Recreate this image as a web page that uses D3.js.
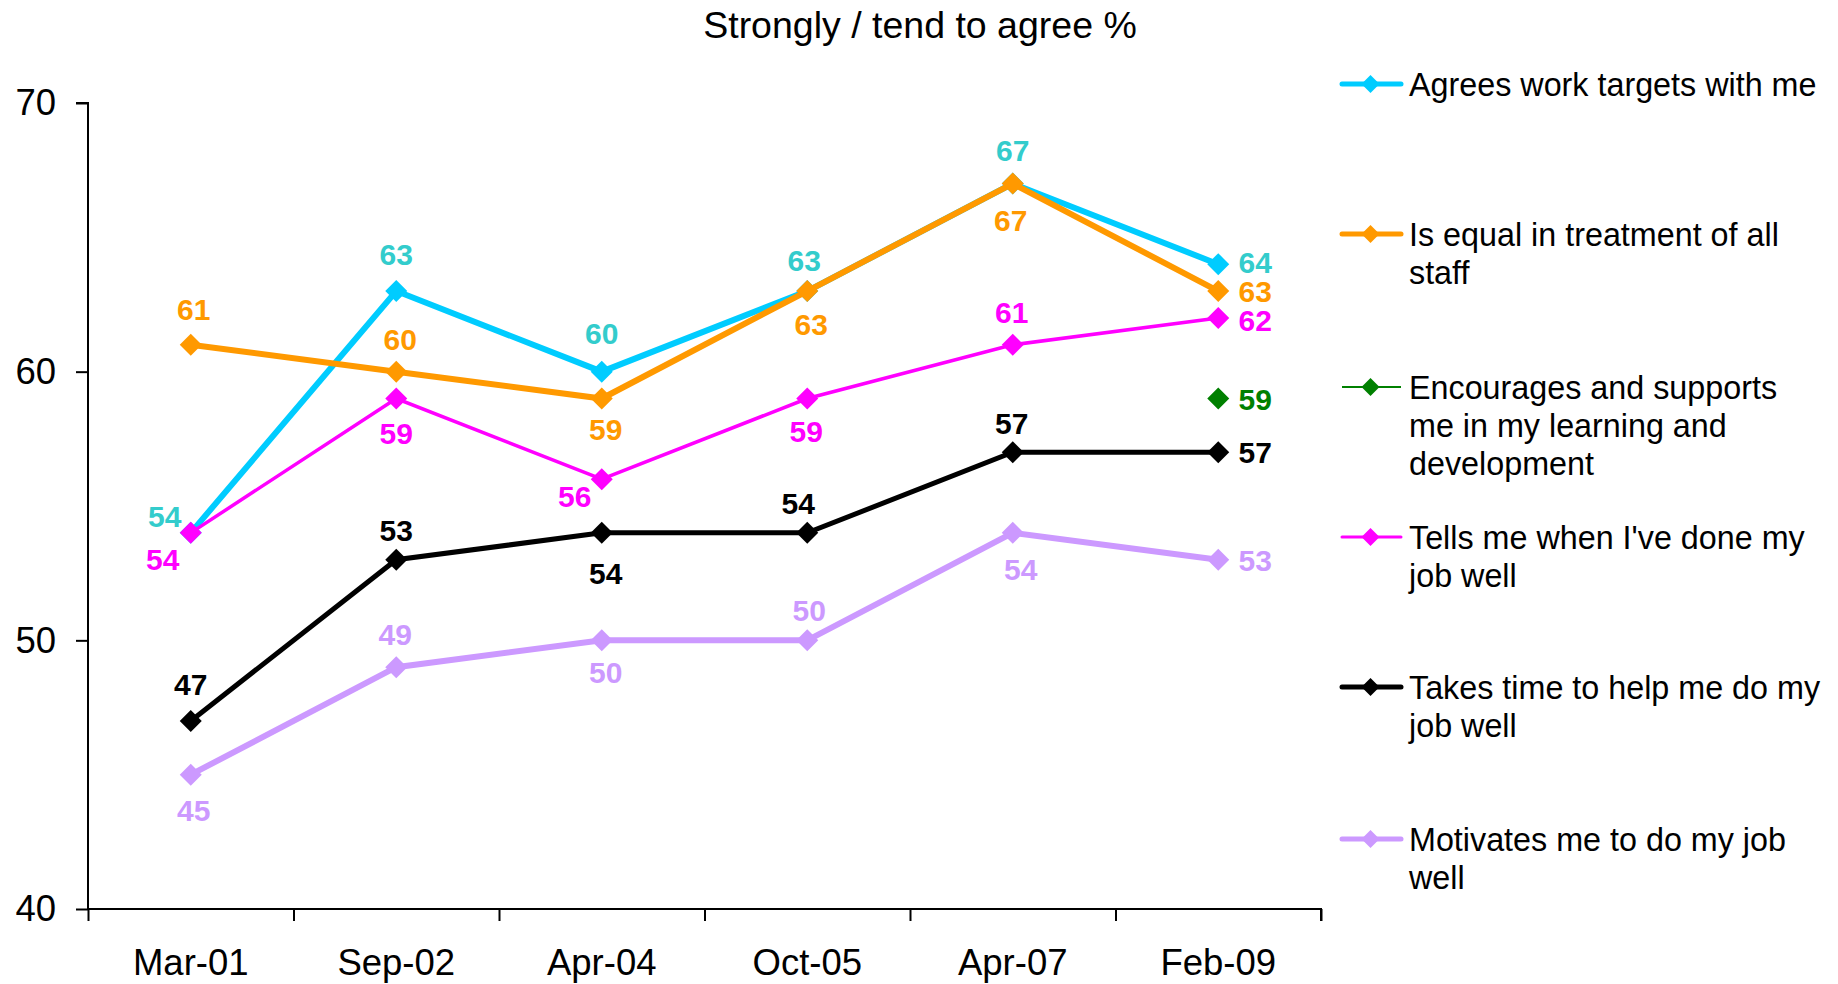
<!DOCTYPE html>
<html>
<head>
<meta charset="utf-8">
<script src="https://cdn.jsdelivr.net/npm/d3@7/dist/d3.min.js"></script>
<style>
  html, body { margin: 0; padding: 0; background: #ffffff; }
  svg { display: block; }
  text { font-family: "Liberation Sans", Arial, Helvetica, sans-serif; }
</style>
</head>
<body>
<svg id="chart" width="1838" height="984"></svg>
<script>
// ---------- data ----------
const categories = ["Mar-01", "Sep-02", "Apr-04", "Oct-05", "Apr-07", "Feb-09"];
const agreesTargets      = [54, 63, 60, 63, 67, 64];
const equalTreatment     = [61, 60, 59, 63, 67, 63];
const encouragesLearning = [null, null, null, null, null, 59];
const tellsDoneWell      = [54, 59, 56, 59, 61, 62];
const takesTime          = [47, 53, 54, 54, 57, 57];
const motivates          = [45, 49, 50, 50, 54, 53];
const yTicks = [40, 50, 60, 70];
const title = "Strongly / tend to agree %";
const legendLabels = [
  ["Agrees work targets with me"],
  ["Is equal in treatment of all", "staff"],
  ["Encourages and supports", "me in my learning and", "development"],
  ["Tells me when I've done my", "job well"],
  ["Takes time to help me do my", "job well"],
  ["Motivates me to do my job", "well"]
];

// ---------- styles (not data) ----------
const styles = [
  { line: "#00CCFF", label: "#33CCCC", width: 6,   legendWidth: 5 },
  { line: "#FF9900", label: "#FF9900", width: 6,   legendWidth: 5 },
  { line: "#008000", label: "#008000", width: 2,   legendWidth: 1.8 },
  { line: "#FF00FF", label: "#FF00FF", width: 3.5, legendWidth: 3 },
  { line: "#000000", label: "#000000", width: 5,   legendWidth: 5 },
  { line: "#CC99FF", label: "#CC99FF", width: 6,   legendWidth: 5 }
];
// label offsets [dx, dy] of label centre relative to marker
const labelOffsets = [
  [[-26,-17],[0,-37],[0,-39],[-3,-31],[0,-34],[37,-2]],
  [[3,-36],[4,-33],[4,30],[4,33],[-2,36],[37,0]],
  [null,null,null,null,null,[37,0]],
  [[-28,26],[0,34],[-27,17],[-1,32],[-1,-33],[37,2]],
  [[0,-37],[0,-30],[4,40],[-9,-30],[-1,-29],[37,0]],
  [[3,35],[-1,-33],[4,32],[2,-30],[8,36],[37,0]]
];

const seriesValues = [agreesTargets, equalTreatment, encouragesLearning, tellsDoneWell, takesTime, motivates];

// ---------- layout ----------
const svg = d3.select("#chart");
const x0 = 88, x1 = 1321, yTop = 103, yBottom = 909;

const x = d3.scaleBand().domain(categories).range([x0, x1]);
const xEdges = d3.scaleLinear().domain([0, categories.length]).range([x0, x1]);
const y = d3.scaleLinear().domain([40, 70]).range([yBottom, yTop]);

// title
svg.append("text")
  .attr("x", 920).attr("y", 38)
  .attr("text-anchor", "middle")
  .attr("font-size", 37.5)
  .attr("fill", "#000")
  .text(title);

// y axis
const yAxis = svg.append("g")
  .attr("transform", `translate(${x0},0)`)
  .call(d3.axisLeft(y).tickValues(yTicks).tickSize(12).tickPadding(20).tickFormat(d3.format("d")));
yAxis.selectAll("text").attr("font-size", 36.5).attr("fill", "#000")
  .attr("font-family", '"Liberation Sans", Arial, sans-serif');
yAxis.selectAll("line").attr("stroke", "#000").attr("stroke-width", 2);
yAxis.select(".domain").attr("stroke", "#000").attr("stroke-width", 2)
  .attr("d", `M-12,${yTop}H0V${yBottom}`);

// x axis: boundary ticks
const xAxisTicks = svg.append("g")
  .attr("transform", `translate(0,${yBottom})`)
  .call(d3.axisBottom(xEdges).tickValues(d3.range(categories.length + 1)).tickSize(12).tickFormat(""));
xAxisTicks.selectAll("line").attr("stroke", "#000").attr("stroke-width", 2);
xAxisTicks.select(".domain").attr("stroke", "#000").attr("stroke-width", 2)
  .attr("d", `M${x0},0H${x1}V12`);

// x axis: category labels
const xAxisLabels = svg.append("g")
  .attr("transform", `translate(0,${yBottom})`)
  .call(d3.axisBottom(x).tickSize(0).tickPadding(40));
xAxisLabels.select(".domain").remove();
xAxisLabels.selectAll("text").attr("font-size", 36.5).attr("fill", "#000")
  .attr("font-family", '"Liberation Sans", Arial, sans-serif');

const cx = c => x(c) + x.bandwidth() / 2;
const diamond = (s) => `M0,${-s}L${s},0L0,${s}L${-s},0Z`;

// series
seriesValues.forEach((vals, si) => {
  const st = styles[si];
  const pts = categories.map((c, i) => ({ c, v: vals[i], i })).filter(d => d.v != null);
  const g = svg.append("g");
  const line = d3.line().x(d => cx(d.c)).y(d => y(d.v));
  if (pts.length > 1) {
    g.append("path").datum(pts)
      .attr("d", line)
      .attr("fill", "none")
      .attr("stroke", st.line)
      .attr("stroke-width", st.width)
      .attr("stroke-linejoin", "miter");
  }
  g.selectAll("path.mk").data(pts).enter().append("path")
    .attr("class", "mk")
    .attr("d", diamond(11))
    .attr("transform", d => `translate(${cx(d.c)},${y(d.v)})`)
    .attr("fill", st.line);
});

// data labels (drawn above all series)
seriesValues.forEach((vals, si) => {
  const st = styles[si];
  const pts = categories.map((c, i) => ({ c, v: vals[i], i })).filter(d => d.v != null);
  svg.append("g").selectAll("text").data(pts).enter().append("text")
    .attr("x", d => cx(d.c) + labelOffsets[si][d.i][0])
    .attr("y", d => y(d.v) + labelOffsets[si][d.i][1] + 11)
    .attr("text-anchor", "middle")
    .attr("font-size", 30)
    .attr("font-weight", "bold")
    .attr("fill", st.label)
    .text(d => d.v);
});

// legend
const legendY = [84, 234, 387, 537, 687, 839];
const lg = svg.append("g");
legendLabels.forEach((lines, i) => {
  const st = styles[i];
  const gy = legendY[i];
  lg.append("line")
    .attr("x1", 1342).attr("x2", 1401).attr("y1", gy).attr("y2", gy)
    .attr("stroke", st.line).attr("stroke-width", st.legendWidth)
    .attr("stroke-linecap", st.legendWidth > 2 ? "round" : "butt");
  lg.append("path")
    .attr("d", diamond(9))
    .attr("transform", `translate(1370.5,${gy})`)
    .attr("fill", st.line);
  const t = lg.append("text")
    .attr("x", 1409).attr("y", gy + 12)
    .attr("font-size", 32.3).attr("fill", "#000");
  lines.forEach((ln, k) => {
    t.append("tspan").attr("x", 1409).attr("dy", k === 0 ? 0 : 38).text(ln);
  });
});
</script>
</body>
</html>
